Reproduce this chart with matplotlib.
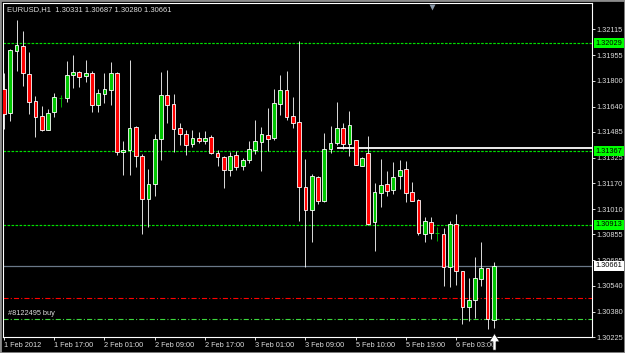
import matplotlib
matplotlib.use("Agg")
import matplotlib.pyplot as plt
import matplotlib.transforms as mtransforms
from matplotlib.patches import Rectangle
from matplotlib.path import Path
import numpy as np

symbol = "EURUSD,H1"

# hourly OHLC
opens = [1.31747, 1.31600, 1.31984, 1.32015, 1.31839, 1.31675, 1.31581, 1.31498, 1.31606, 1.31692,
         1.31692, 1.31831, 1.31851, 1.31827, 1.31845, 1.31651, 1.31716, 1.31743, 1.31845, 1.31361,
         1.31371, 1.31514, 1.31334, 1.31072, 1.31166, 1.31440, 1.31710, 1.31657, 1.31508, 1.31473,
         1.31410, 1.31446, 1.31430, 1.31451, 1.31354, 1.31332, 1.31248, 1.31344, 1.31273, 1.31310,
         1.31375, 1.31422, 1.31467, 1.31446, 1.31657, 1.31743, 1.31585, 1.31543, 1.31146, 1.31007,
         1.31207, 1.31058, 1.31379, 1.31416, 1.31508, 1.31412, 1.31432, 1.31273, 1.31354, 1.30929,
         1.31109, 1.31164, 1.31130, 1.31211, 1.31256, 1.31113, 1.31068, 1.30860, 1.30931, 1.30864,
         1.30860, 1.30655, 1.30919, 1.30633, 1.30408, 1.30455, 1.30582, 1.30649, 1.30331]
highs = [1.31845, 1.31995, 1.32172, 1.32107, 1.31974, 1.31706, 1.31645, 1.31624, 1.31726, 1.31712,
         1.31921, 1.31957, 1.31861, 1.31927, 1.31861, 1.31747, 1.31849, 1.31912, 1.31855, 1.31430,
         1.31927, 1.31518, 1.31350, 1.31256, 1.31471, 1.31855, 1.31865, 1.31718, 1.31538, 1.31498,
         1.31498, 1.31483, 1.31491, 1.31467, 1.31371, 1.31338, 1.31359, 1.31365, 1.31324, 1.31426,
         1.31559, 1.31514, 1.31630, 1.31747, 1.31835, 1.31857, 1.31698, 1.32043, 1.31318, 1.31228,
         1.31211, 1.31477, 1.31518, 1.31671, 1.31538, 1.31610, 1.31436, 1.31328, 1.31461, 1.31171,
         1.31318, 1.31246, 1.31299, 1.31310, 1.31307, 1.31177, 1.31074, 1.30962, 1.30960, 1.30901,
         1.30895, 1.30940, 1.30982, 1.30633, 1.30588, 1.30717, 1.30809, 1.30649, 1.30687]
lows = [1.31502, 1.31549, 1.31861, 1.31769, 1.31594, 1.31453, 1.31492, 1.31494, 1.31575, 1.31635,
        1.31665, 1.31757, 1.31759, 1.31790, 1.31604, 1.31604, 1.31661, 1.31651, 1.31340, 1.31218,
        1.31218, 1.31269, 1.30858, 1.30901, 1.31089, 1.31310, 1.31538, 1.31359, 1.31406, 1.31344,
        1.31391, 1.31416, 1.31410, 1.31348, 1.31273, 1.31138, 1.31211, 1.31248, 1.31248, 1.31293,
        1.31350, 1.31242, 1.31369, 1.31436, 1.31590, 1.31559, 1.31508, 1.30935, 1.30655, 1.30807,
        1.31044, 1.31052, 1.31354, 1.31406, 1.31379, 1.31338, 1.31279, 1.31273, 1.30915, 1.30751,
        1.31023, 1.31089, 1.31105, 1.31134, 1.31052, 1.31058, 1.30850, 1.30807, 1.30829, 1.30817,
        1.30541, 1.30533, 1.30547, 1.30302, 1.30326, 1.30343, 1.30541, 1.30277, 1.30280]
closes = [1.31594, 1.31988, 1.32019, 1.31845, 1.31667, 1.31575, 1.31496, 1.31600, 1.31696, 1.31692,
          1.31835, 1.31855, 1.31821, 1.31845, 1.31651, 1.31722, 1.31747, 1.31845, 1.31359, 1.31375,
          1.31508, 1.31338, 1.31072, 1.31166, 1.31440, 1.31712, 1.31651, 1.31502, 1.31471, 1.31406,
          1.31446, 1.31430, 1.31446, 1.31354, 1.31330, 1.31250, 1.31338, 1.31269, 1.31314, 1.31379,
          1.31426, 1.31471, 1.31442, 1.31661, 1.31743, 1.31579, 1.31538, 1.31146, 1.31007, 1.31215,
          1.31058, 1.31379, 1.31416, 1.31508, 1.31412, 1.31528, 1.31279, 1.31324, 1.30921, 1.31115,
          1.31158, 1.31119, 1.31209, 1.31252, 1.31109, 1.31062, 1.30864, 1.30935, 1.30864, 1.30864,
          1.30655, 1.30919, 1.30629, 1.30408, 1.30455, 1.30588, 1.30649, 1.30337, 1.30661]

time_labels = ["1 Feb 2012", "1 Feb 17:00", "2 Feb 01:00", "2 Feb 09:00", "2 Feb 17:00",
               "3 Feb 01:00", "3 Feb 09:00", "5 Feb 10:00", "5 Feb 19:00", "6 Feb 03:00"]
label_step = 8

price_ticks = [1.32115, 1.31955, 1.31800, 1.31640, 1.31485, 1.31325, 1.31170,
               1.31010, 1.30855, 1.30695, 1.30540, 1.30380, 1.30225]

levels = [1.32029, 1.31367, 1.30913]   # green dashed lines with price tags
bid = 1.30661
stop_level = 1.30465
order_price = 1.30335
order_text = "#8122495 buy"
trend_level = 1.31385
trend_start = 53
shift_pos = 68.2

BULL = "#00c800"
BEAR = "#ff0000"
TXT = "#dcdcdc"
FONT = "Liberation Sans"
FS = 5.3

fig = plt.figure(figsize=(6.25, 3.53), dpi=100, facecolor="black")
ax = fig.add_axes([3 / 625, 16 / 353, 589 / 625, 334 / 353])
ax.set_facecolor("black")
ax.set_xlim(-0.16, 93.63)
ax.set_ylim(1.30225, 1.32276)
for s in ax.spines.values():
    s.set_color("white")
    s.set_linewidth(0.8)

o = np.array(opens)
h = np.array(highs)
l = np.array(lows)
c = np.array(closes)
x = np.arange(len(o))
doji = o == c

# levels first so candles sit on top
for lv in levels:
    ax.axhline(lv, color="#00e000", lw=0.85, ls=(0, (2.2, 1.2)), zorder=1)
ax.axhline(bid, color="#6a7888", lw=0.9, zorder=1)
ax.axhline(stop_level, color="#ff0000", lw=0.8, ls=(0, (4.6, 1.9, 1, 1.9)), zorder=1)
ax.axhline(order_price, color="#3cd83c", lw=0.8, ls=(0, (4.6, 1.9, 1, 1.9)), zorder=1)
ax.hlines(trend_level, trend_start, 93.63, color="white", lw=1.3, zorder=1)

wick_cols = [BULL if d else "white" for d in doji]
ax.vlines(x, l, h, colors=wick_cols, lw=0.6, zorder=2)

up = (c > o) & ~doji
dn = (c < o) & ~doji
bw = 0.6
ax.bar(x[up], (c - o)[up], bottom=o[up], width=bw, color=BULL, edgecolor="white", linewidth=0.6, zorder=3)
ax.bar(x[dn], (o - c)[dn], bottom=c[dn], width=bw, color=BEAR, edgecolor="white", linewidth=0.6, zorder=3)
ax.hlines(o[doji], x[doji] - bw / 2, x[doji] + bw / 2, colors=BULL, lw=0.7, zorder=3)

# right price axis
ax.yaxis.tick_right()
ax.set_yticks(price_ticks)
ax.set_yticklabels([f"{v:.5f}" for v in price_ticks], family=FONT)
ax.tick_params(axis="y", colors=TXT, labelsize=FS, length=2, width=0.6, pad=1.5, direction="out")
ax.tick_params(axis="y", color="white")

# time axis
ax.set_xticks(range(0, label_step * len(time_labels), label_step))
ax.set_xticklabels(time_labels, family=FONT, ha="left")
ax.tick_params(axis="x", colors=TXT, labelsize=FS, length=2.2, width=0.6, pad=1.2, direction="out")
ax.tick_params(axis="x", color="white")

tag_tr = mtransforms.blended_transform_factory(ax.transAxes, ax.transData)
for lv in levels:
    ax.text(1.006, lv, f"{lv:.5f}", transform=tag_tr, ha="left", va="center", fontsize=FS,
            family=FONT, color="black", zorder=6, clip_on=False,
            bbox=dict(boxstyle="square,pad=0.18", fc="#00ff00", ec="none"))
ax.text(1.006, bid, f"{bid:.5f}", transform=tag_tr, ha="left", va="center", fontsize=FS,
        family=FONT, color="black", zorder=6, clip_on=False,
        bbox=dict(boxstyle="square,pad=0.18", fc="white", ec="none"))

ax.annotate(order_text, (0.6, order_price), xytext=(0, 1.2), textcoords="offset points",
            fontsize=FS, family=FONT, color=TXT, ha="left", va="bottom")

fig.text(7 / 625, 1 - 10 / 353,
         f"{symbol}  {opens[-1]:.5f} {highs[-1]:.5f} {lows[-1]:.5f} {closes[-1]:.5f}",
         fontsize=FS + 0.2, family=FONT, color=TXT, ha="left", va="center")

# chart shift marker and mouse pointer
top_tr = mtransforms.blended_transform_factory(ax.transData, ax.transAxes)
ax.plot(shift_pos, 0.988, marker="v", ms=4.5, color="#8a98a8", mec="none",
        transform=top_tr, clip_on=False, zorder=7)
arrow = Path([(0, 0), (-5, -8), (-1.5, -8), (-1.5, -16), (1.5, -16), (1.5, -8), (5, -8), (0, 0)],
             [Path.MOVETO] + [Path.LINETO] * 6 + [Path.CLOSEPOLY])
ax.plot(len(o) - 1, 0.011, marker=arrow, ms=24, color="white", mec="black", mew=0.5,
        transform=top_tr, clip_on=False, zorder=8)

fig.patches.append(Rectangle((0, 0), 1, 1, transform=fig.transFigure, fill=False,
                             ec="#8c8c8c", lw=2))

fig.savefig("out.png", dpi=100, facecolor="black")
